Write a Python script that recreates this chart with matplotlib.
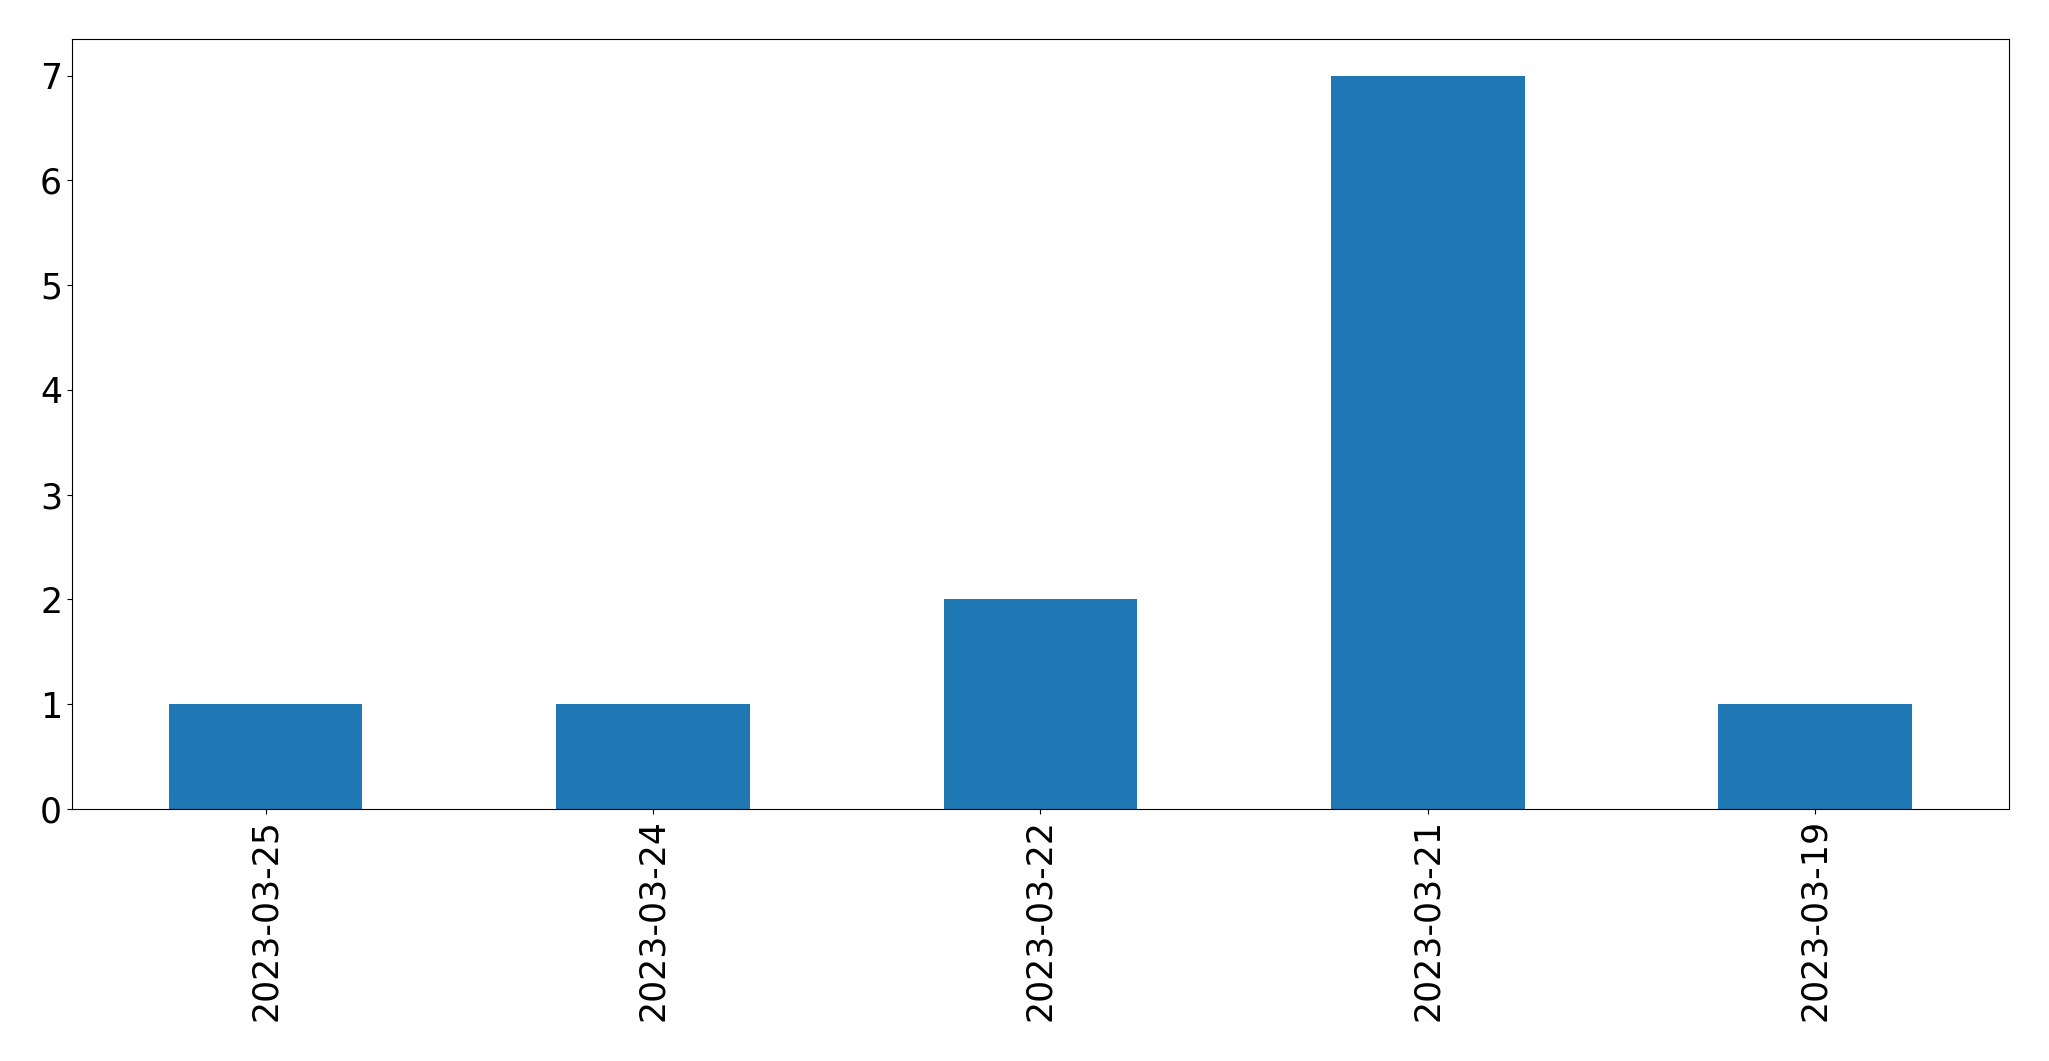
import matplotlib
matplotlib.use("Agg")
import matplotlib.pyplot as plt
import pandas as pd

dates = ["2023-03-25", "2023-03-24", "2023-03-22", "2023-03-21", "2023-03-19"]
counts = [1, 1, 2, 7, 1]

s = pd.Series(counts, index=dates)
fig, ax = plt.subplots(figsize=(20.49, 10.61), dpi=100)
s.plot(kind="bar", ax=ax, color="#1f77b4", fontsize=25)
ax.tick_params(axis="both", labelsize=25)
fig.subplots_adjust(left=0.0351, right=0.9805, top=0.9632, bottom=0.2375)
fig.savefig("out.png", dpi=100)
